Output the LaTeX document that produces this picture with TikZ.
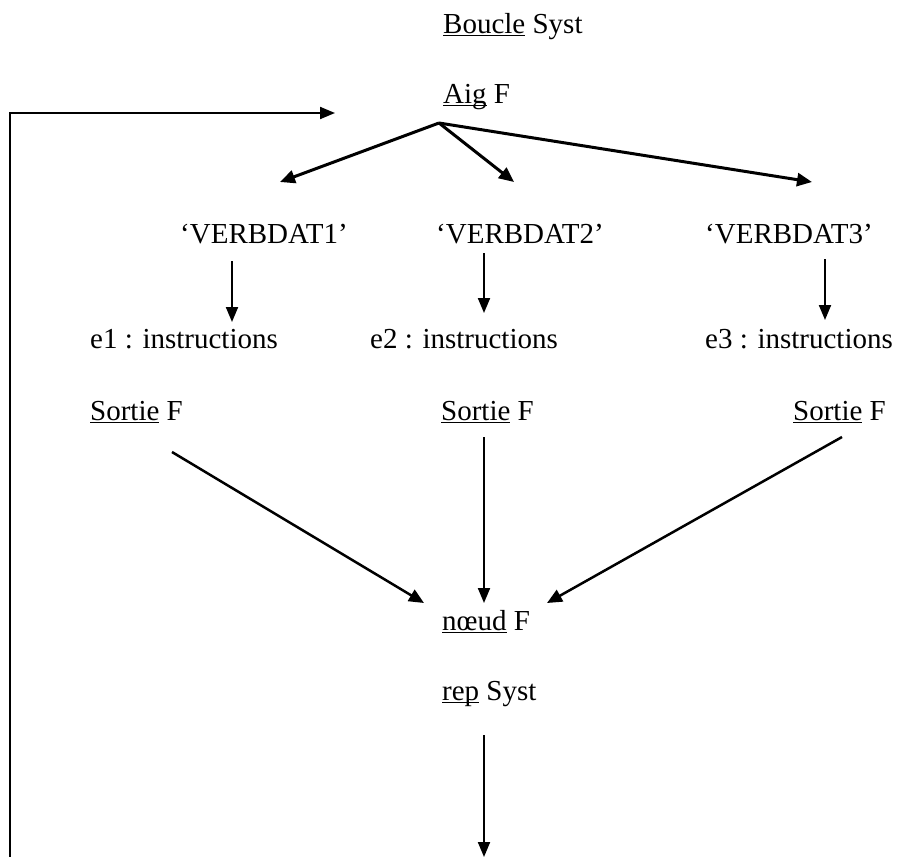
\documentclass[tikz,border=0pt]{standalone}
\usepackage{fontspec}
\setmainfont{Liberation Serif}
\usetikzlibrary{arrows.meta,calc}
\newcommand\myul[1]{\setbox0\hbox{#1}\rlap{\rule[-0.11em]{\wd0}{0.05em}}\box0\relax}
\begin{document}
\begin{tikzpicture}[x=1pt,y=-1pt,
  lbl/.style={inner sep=0pt,font=\fontsize{29}{34}\selectfont,anchor=base west},
  arr/.style={-{Triangle[length=15pt,width=12pt]},line width=2pt},
  thick arr/.style={-{Triangle[length=15pt,width=13pt]},line width=3pt}]
\useasboundingbox[fill=white] (0,0) rectangle (898,857);
\node[lbl] (boucle) at (443,33) {\myul{Boucle} Syst};
\node[lbl] (aig) at (443,103) {\myul{Aig} F};
\node[lbl] (verb1) at (180,243) {‘VERBDAT1’};
\node[lbl] (verb2) at (436,243) {‘VERBDAT2’};
\node[lbl] (verb3) at (705,243) {‘VERBDAT3’};
\node[lbl] (e1) at (90,348) {e1 : instructions};
\node[lbl] (e2) at (370,348) {e2 : instructions};
\node[lbl] (e3) at (705,348) {e3 : instructions};
\node[lbl] (s1) at (90,420) {\myul{Sortie} F};
\node[lbl] (s2) at (441,420) {\myul{Sortie} F};
\node[lbl] (s3) at (793,420) {\myul{Sortie} F};
\node[lbl] (noeud) at (442,630) {\myul{nœud} F};
\node[lbl] (rep) at (442,700) {\myul{rep} Syst};
\coordinate (apex) at ($(aig.base west)+(-4,20)$);
\coordinate (bottom) at (10,857);
\coordinate (exitend) at (484,857);
% fan from Aig F
\draw[thick arr] (apex) -- ($(verb1.base west)+(100,-61)$);
\draw[thick arr] (apex) -- ($(verb2.base west)+(78,-61)$);
\draw[thick arr] (apex) -- ($(verb3.base west)+(107,-61)$);
% verbdat to instructions
\draw[arr] ($(verb1.base west)+(52,18)$) -- ($(e1.base west)+(142,-26)$);
\draw[arr] ($(verb2.base west)+(48,10)$) -- ($(e2.base west)+(114,-35)$);
\draw[arr] ($(verb3.base west)+(120,16)$) -- ($(e3.base west)+(120,-28)$);
% sorties to noeud
\draw[thick arr,line width=2.5pt] ($(s1.base west)+(82,32)$) -- ($(noeud.base west)+(-18,-27)$);
\draw[arr] ($(s2.base west)+(43,17)$) -- ($(noeud.base west)+(42,-27)$);
\draw[thick arr,line width=2.5pt] ($(s3.base west)+(49,17)$) -- ($(noeud.base west)+(105,-27)$);
% exit from rep
\draw[arr] ($(rep.base west)+(42,35)$) -- (exitend);
% loop back
\draw[arr] (bottom) -- (10,113) -- ($(aig.base west)+(-108,10)$);
\end{tikzpicture}
\end{document}
